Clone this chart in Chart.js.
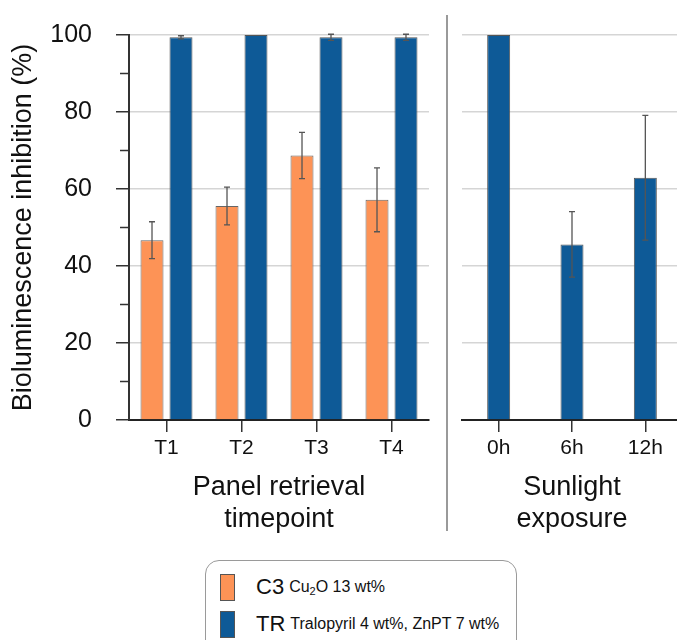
<!DOCTYPE html>
<html>
<head>
<meta charset="utf-8">
<script src="https://cdn.jsdelivr.net/npm/chart.js@4.4.1/dist/chart.umd.min.js"></script>
<style>
  body { margin: 0; background: #fff; overflow: hidden; }
  #wrap { position: relative; width: 677px; height: 640px; overflow: hidden; font-family: "Liberation Sans", Arial, sans-serif; color: #111; }
  #leftBox { position: absolute; left: 0; top: 0; width: 447px; height: 540px; }
  #rightBox { position: absolute; left: 447px; top: 0; width: 240px; height: 540px; }
  #divider { position: absolute; left: 446px; top: 15px; width: 2px; height: 516px; background: #9a9a9a; }
  #legend { position: absolute; left: 205px; top: 560px; width: 310px; height: 110px; border: 1.5px solid #9a9a9a; border-radius: 14px; }
  .row { position: absolute; left: 14px; height: 28px; display: flex; align-items: center; }
  .sw { width: 15px; height: 27px; border: 1px solid #555; box-sizing: border-box; margin-right: 21px; }
  .big { font-size: 22px; margin-right: 5px; }
  .small { font-size: 16px; }
  .small sub { font-size: 11px; vertical-align: -3px; line-height: 0; }
</style>
</head>
<body>
<div id="wrap">
  <div id="leftBox"><canvas id="leftChart"></canvas></div>
  <div id="rightBox"><canvas id="rightChart"></canvas></div>
  <div id="divider"></div>
  <div id="legend"></div>
</div>
<script>
const timepoints = ['T1', 'T2', 'T3', 'T4']
const c3Values = [46.7, 55.6, 68.7, 57.2]
const c3Errors = [4.8, 4.9, 6.0, 8.3]
const trValues = [99.4, 100, 99.4, 99.4]
const trErrors = [0.4, 0, 0.8, 0.8]

const exposures = ['0h', '6h', '12h']
const trSunValues = [100, 45.6, 62.9]
const trSunErrors = [0, 8.5, 16.2]

const seriesNames = ['C3', 'TR']
const seriesNotes = ['Cu<sub>2</sub>O 13 wt%', 'Tralopyril 4 wt%, ZnPT 7 wt%']
const orange = '#fd9356'
const blue = '#0e5a97'

const font = '"Liberation Sans", Arial, sans-serif'

// error bars drawn from each dataset's errors array
const errorBars = {
    id: 'errorBars',
    afterDatasetsDraw(chart) {
        const ctx = chart.ctx
        const y = chart.scales.y
        ctx.save()
        ctx.strokeStyle = '#555'
        ctx.lineWidth = 1.3
        chart.data.datasets.forEach((ds, i) => {
            const meta = chart.getDatasetMeta(i)
            meta.data.forEach((bar, j) => {
                const e = ds.errors[j]
                if (!e) return
                const top = y.getPixelForValue(ds.data[j] + e)
                const bot = y.getPixelForValue(ds.data[j] - e)
                ctx.beginPath()
                ctx.moveTo(bar.x, top); ctx.lineTo(bar.x, bot)
                ctx.moveTo(bar.x - 3, top); ctx.lineTo(bar.x + 3, top)
                ctx.moveTo(bar.x - 3, bot); ctx.lineTo(bar.x + 3, bot)
                ctx.stroke()
            })
        })
        ctx.restore()
    }
}

// short minor ticks on the left y axis
const minorTicks = {
    id: 'minorTicks',
    afterDraw(chart) {
        if (!chart.options.plugins.minorTicks) return
        const ctx = chart.ctx
        const y = chart.scales.y
        const left = chart.chartArea.left
        ctx.save()
        ctx.strokeStyle = '#333'
        ctx.lineWidth = 1.5
        for (let v = 10; v < 100; v += 20) {
            const py = y.getPixelForValue(v)
            ctx.beginPath()
            ctx.moveTo(left - 9, py); ctx.lineTo(left, py)
            ctx.stroke()
        }
        ctx.restore()
    }
}

function xScale(title) {
    return {
        offset: true,
        grid: { display: true, drawOnChartArea: false, offset: false, tickLength: 12, tickColor: '#333', lineWidth: 1.5 },
        border: { display: true, color: '#222', width: 2 },
        ticks: { color: '#111', font: { family: font, size: 21 }, padding: 4 },
        title: { display: true, text: title, color: '#111', font: { family: font, size: 27, lineHeight: 1.2 }, padding: { top: 0, bottom: 4 } },
        afterFit: s => { s.height = 120; s.paddingLeft = 0; s.paddingRight = 0 }
    }
}

new Chart(document.querySelector('#leftChart'), {
    type: 'bar',
    data: {
        labels: timepoints,
        datasets: [
            { label: seriesNames[0], data: c3Values, errors: c3Errors, backgroundColor: orange, borderColor: '#666', borderWidth: 1, categoryPercentage: 0.773, barPercentage: 0.793 },
            { label: seriesNames[1], data: trValues, errors: trErrors, backgroundColor: blue, borderColor: '#555', borderWidth: 1, categoryPercentage: 0.773, barPercentage: 0.793 }
        ]
    },
    options: {
        responsive: true,
        maintainAspectRatio: false,
        animation: false,
        layout: { padding: { top: 35, right: 18, left: 0, bottom: 0 } },
        plugins: { legend: { display: false }, tooltip: { enabled: false }, minorTicks: true },
        scales: {
            x: xScale(['Panel retrieval', 'timepoint']),
            y: {
                min: 0, max: 100,
                ticks: { stepSize: 20, color: '#111', font: { family: font, size: 25 }, padding: 24 },
                grid: { color: '#d5d5d5', lineWidth: 1.5, tickLength: 13, tickColor: '#333' },
                border: { display: true, color: '#333', width: 2 },
                title: { display: true, text: 'Bioluminescence inhibition (%)', color: '#111', font: { family: font, size: 27, lineHeight: 1.2 }, padding: { top: 7, bottom: 0 } },
                afterFit: s => { s.width = 129; s.paddingTop = 0; s.paddingBottom = 0 }
            }
        }
    },
    plugins: [errorBars, minorTicks]
})

new Chart(document.querySelector('#rightChart'), {
    type: 'bar',
    data: {
        labels: exposures,
        datasets: [
            { label: seriesNames[1], data: trSunValues, errors: trSunErrors, backgroundColor: blue, borderColor: '#555', borderWidth: 1, categoryPercentage: 0.4, barPercentage: 0.784 }
        ]
    },
    options: {
        responsive: true,
        maintainAspectRatio: false,
        animation: false,
        layout: { padding: { top: 35, right: 5, left: 0, bottom: 0 } },
        plugins: { legend: { display: false }, tooltip: { enabled: false } },
        scales: {
            x: xScale(['Sunlight', 'exposure']),
            y: {
                min: 0, max: 100,
                ticks: { stepSize: 20, display: false },
                grid: { color: '#d5d5d5', lineWidth: 1.5, drawTicks: false },
                border: { display: false },
                afterFit: s => { s.width = 15; s.paddingTop = 0; s.paddingBottom = 0 }
            }
        }
    },
    plugins: [errorBars]
})

// legend as html text
const legend = document.querySelector('#legend')
const swColors = [orange, blue]
seriesNames.forEach((name, i) => {
    const row = document.createElement('div')
    row.className = 'row'
    row.style.top = (12 + i * 37) + 'px'
    row.innerHTML = '<div class="sw" style="background:' + swColors[i] + '"></div>' +
        '<span class="big">' + name + '</span><span class="small">' + seriesNotes[i] + '</span>'
    legend.appendChild(row)
})
</script>
</body>
</html>
